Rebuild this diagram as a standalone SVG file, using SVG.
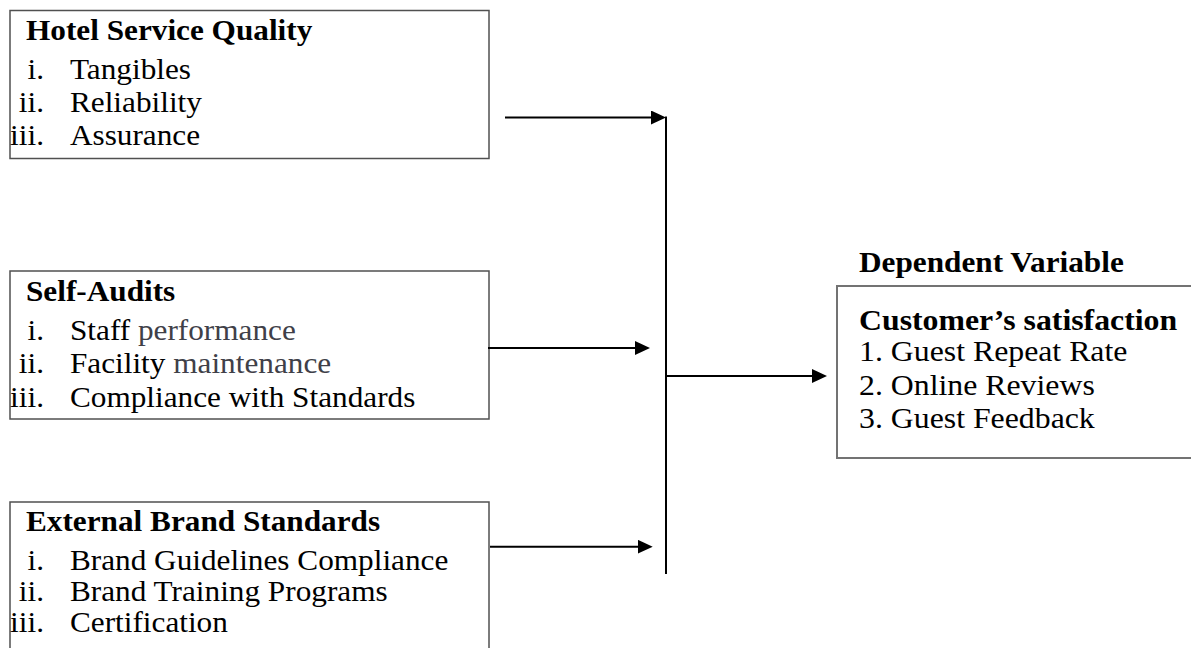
<svg xmlns="http://www.w3.org/2000/svg" width="1191" height="648" viewBox="0 0 1191 648">
<style>
.box{fill:#fff;stroke:#505050;stroke-width:1.5}
.box4{fill:#fff;stroke:#737373;stroke-width:2}
.t{font-family:"Liberation Serif","Times New Roman",serif;font-size:29.5px;fill:#000}
.r{font-size:30px}
.b{font-weight:bold}
.n{text-anchor:end}
.g{fill:#404048}
.c{stroke:#000;stroke-width:2;fill:none}
</style>
<defs>
<marker id="ah" viewBox="0 0 15 14" markerWidth="15" markerHeight="14" refX="5" refY="7" orient="auto" markerUnits="userSpaceOnUse">
<path d="M0,0 L15,7 L0,14 z" fill="#000"/>
</marker>
</defs>
<rect width="1191" height="648" fill="#fff"/>
<g id="n1">
<rect class="box" x="10" y="10.5" width="479" height="148"/>
<g transform="scale(1.06 1)">
<text class="t b" x="24.5" y="40.5">Hotel Service Quality</text>
<text class="t n" x="41.5" y="79.3">i.</text><text class="t" x="66" y="79.3">Tangibles</text>
<text class="t n" x="41.5" y="112">ii.</text><text class="t" x="66" y="112">Reliability</text>
<text class="t n" x="41.5" y="145.5">iii.</text><text class="t" x="66" y="145.5">Assurance</text>
</g>
</g>
<g id="n2">
<rect class="box" x="10" y="271" width="479" height="148"/>
<g transform="scale(1.06 1)">
<text class="t b" x="24.5" y="301">Self-Audits</text>
<text class="t n" x="41.5" y="340">i.</text><text class="t" x="66" y="340">Staff <tspan class="g">performance</tspan></text>
<text class="t n" x="41.5" y="373">ii.</text><text class="t" x="66" y="373">Facility <tspan class="g">maintenance</tspan></text>
<text class="t n" x="41.5" y="406.7">iii.</text><text class="t" x="66" y="406.7">Compliance with Standards</text>
</g>
</g>
<g id="n3">
<rect class="box" x="10" y="502" width="479" height="170"/>
<g transform="scale(1.06 1)">
<text class="t b" x="24.5" y="531.5">External Brand Standards</text>
<text class="t n" x="41.5" y="570">i.</text><text class="t" x="66" y="570">Brand Guidelines Compliance</text>
<text class="t n" x="41.5" y="601.5">ii.</text><text class="t" x="66" y="601.5">Brand Training Programs</text>
<text class="t n" x="41.5" y="632.5">iii.</text><text class="t" x="66" y="632.5">Certification</text>
</g>
</g>
<g id="label">
<g transform="scale(1.06 1)">
<text class="t b" x="810.4" y="272">Dependent Variable</text>
</g>
</g>
<g id="n4">
<rect class="box4" x="837" y="286" width="380" height="172"/>
<g transform="scale(1.06 1)">
<text class="t b r" x="810.4" y="330">Customer’s satisfaction</text>
<text class="t r" x="810.4" y="361">1. Guest Repeat Rate</text>
<text class="t r" x="810.4" y="395">2. Online Reviews</text>
<text class="t r" x="810.4" y="428.5">3. Guest Feedback</text>
</g>
</g>
<g id="connectors">
<line class="c" x1="505" y1="117.5" x2="656" y2="117.5" marker-end="url(#ah)"/>
<line class="c" x1="666" y1="116.5" x2="666" y2="574"/>
<line class="c" x1="488" y1="348" x2="640" y2="348" marker-end="url(#ah)"/>
<line class="c" x1="667" y1="376" x2="817" y2="376" marker-end="url(#ah)"/>
<line class="c" x1="490" y1="546.7" x2="642.7" y2="546.7" marker-end="url(#ah)"/>
</g>
</svg>
